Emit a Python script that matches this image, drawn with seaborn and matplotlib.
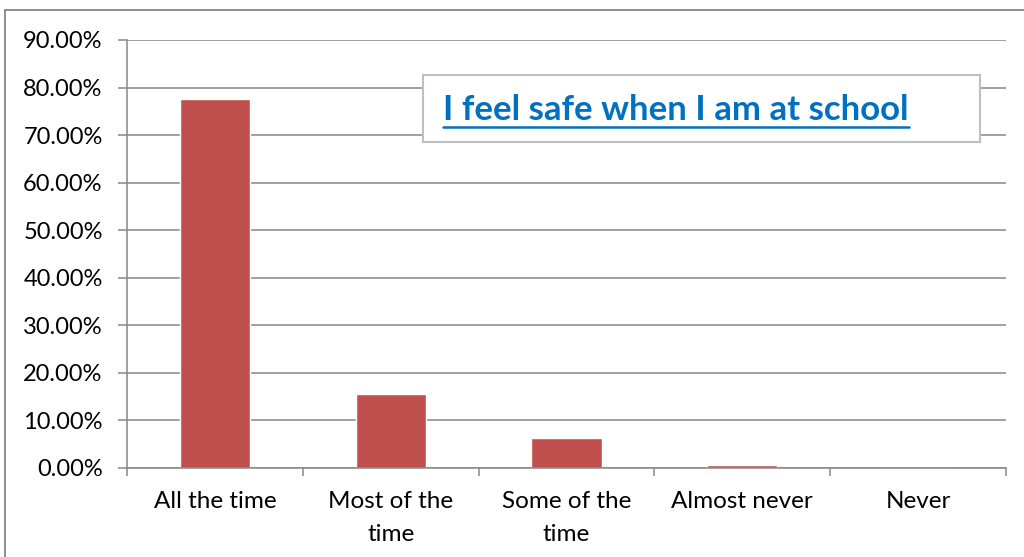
import numpy as np
import pandas as pd
import seaborn as sns
import matplotlib.pyplot as plt
from matplotlib.lines import Line2D
from matplotlib.patches import Rectangle
from matplotlib.ticker import PercentFormatter, FixedLocator

categories = ['All the time', 'Most of the\ntime', 'Some of the\ntime', 'Almost never', 'Never']
shares = [77.5, 15.6, 6.3, 0.5, 0.0]
title = 'I feel safe when I am at school'

sns.set_style('white')
plt.rcParams['font.family'] = ['Lato', 'DejaVu Sans']

df = pd.DataFrame({'answer': categories, 'share': shares})

W, H = 1024, 557
fig = plt.figure(figsize=(W / 100, H / 100), dpi=100)
ax = fig.add_axes([127 / W, 1 - 467.7 / H, (1006 - 127) / W, (467.7 - 40) / H])
sns.barplot(data=df, x='answer', y='share', color='#C0504D', width=0.4,
            saturation=1, ax=ax)

grid_col = '#868686'
ax.set_ylim(0, 90)
ax.set_xlim(-0.5, len(categories) - 0.5)
ax.set_yticks(np.arange(0, 91, 10))
ax.yaxis.set_major_formatter(PercentFormatter(decimals=2))
ax.yaxis.grid(True, color=grid_col, linewidth=1.1)
ax.set_axisbelow(True)
ax.set_xlabel('')
ax.set_ylabel('')
for side in ['top', 'right']:
    ax.spines[side].set_visible(False)
for side in ['left', 'bottom']:
    ax.spines[side].set_color(grid_col)
    ax.spines[side].set_linewidth(1.1)

ax.tick_params(axis='y', which='major', left=True, length=6.5, width=1.1,
               color=grid_col, pad=11, labelsize=17, labelcolor='black')
ax.tick_params(axis='x', which='major', bottom=False, length=0, pad=17,
               labelsize=17.5, labelcolor='black')
ax.xaxis.set_minor_locator(FixedLocator(np.arange(-0.5, len(categories), 1)))
ax.tick_params(axis='x', which='minor', bottom=True, length=6, width=1.1, color=grid_col)
for lab in ax.get_xticklabels():
    lab.set_verticalalignment('top')
    lab.set_linespacing(1.7)

# title box
fig.add_artist(Rectangle((423 / W, 1 - 142 / H), (980 - 423) / W, 67 / H,
                         transform=fig.transFigure, facecolor='white',
                         edgecolor='#BFBFBF', linewidth=1.5, zorder=5))
txt = fig.text(443 / W, 1 - 110 / H, title, fontsize=25, fontweight='bold',
               color='#0070C0', va='center', ha='left', zorder=6)
fig.canvas.draw()
bb = txt.get_window_extent().transformed(fig.transFigure.inverted())
fig.add_artist(Line2D([bb.x0, bb.x1], [1 - 127 / H, 1 - 127 / H],
                      transform=fig.transFigure, color='#0070C0', linewidth=1.8,
                      zorder=6))

# outer chart frame
fig.add_artist(Line2D([5 / W, 5 / W], [0, 1 - 10 / H],
                      transform=fig.transFigure, color=grid_col, linewidth=1.3))
fig.add_artist(Line2D([5 / W, 1], [1 - 10 / H, 1 - 10 / H],
                      transform=fig.transFigure, color=grid_col, linewidth=1.3))

fig.savefig('out.png', dpi=100)
